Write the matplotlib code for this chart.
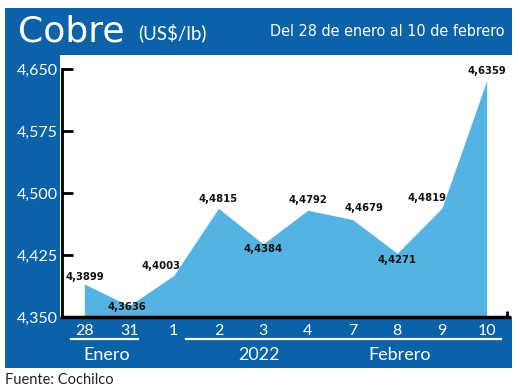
import matplotlib.pyplot as plt
from matplotlib.patches import Rectangle
from matplotlib.lines import Line2D
from matplotlib.transforms import blended_transform_factory

# Copper price, US$/lb
days = ["28", "31", "1", "2", "3", "4", "7", "8", "9", "10"]
prices = [4.3899, 4.3636, 4.4003, 4.4815, 4.4384, 4.4792, 4.4679, 4.4271, 4.4819, 4.6359]
price_labels = ["4,3899", "4,3636", "4,4003", "4,4815", "4,4384",
                "4,4792", "4,4679", "4,4271", "4,4819", "4,6359"]
y_ticks = [4.350, 4.425, 4.500, 4.575, 4.650]
y_tick_labels = ["4,350", "4,425", "4,500", "4,575", "4,650"]
group_names = ["Enero", "2022", "Febrero"]

BLUE = "#0C62A9"
FILL = "#55B3E3"
W, H = 520, 390


def fx(px):
    return px / W


def fy(py):
    return 1 - py / H


fig = plt.figure(figsize=(5.2, 3.9), dpi=100)

# background panels
fig.patches.append(Rectangle((fx(5), fy(368)), fx(507), 360 / H, transform=fig.transFigure,
                             facecolor=BLUE, edgecolor="none", zorder=0))
fig.patches.append(Rectangle((fx(60), fy(317)), fx(460), 262 / H, transform=fig.transFigure,
                             facecolor="white", edgecolor="none", zorder=0))

ax = fig.add_axes([fx(62), fy(317), fx(447), 262 / H])
ax.set_facecolor("none")
ax.set_zorder(2)

x = list(range(len(prices)))
ax.fill_between(x, prices, 4.35, color=FILL, lw=0)
ax.set_xlim(-0.5, 9.5)
ax.set_ylim(4.35, 4.667)

# value labels (offsets in points)
offsets = [(0, 5), (-1.5, -1), (-9, 6.5), (0, 7), (0, -3.5),
           (0, 7), (8, 8), (0, -4.5), (-11, 7), (0, 7)]
for xi, v, lab, off in zip(x, prices, price_labels, offsets):
    ax.annotate(lab, (xi, v), xytext=off, textcoords="offset points",
                ha="center", va="center", fontsize=8, fontweight="bold",
                family="DejaVu Sans", stretch="condensed", color="#111111")

for s in ["top", "right"]:
    ax.spines[s].set_visible(False)
ax.spines["left"].set_linewidth(2)
ax.spines["left"].set_bounds(4.35, 4.65)
ax.spines["bottom"].set_linewidth(2.5)

ax.set_yticks(y_ticks)
ax.set_yticklabels(y_tick_labels, family="Lato", fontsize=11.5, color="white")
ax.tick_params(axis="y", direction="in", length=8, width=2, pad=3)
ax.set_xticks(x)
ax.set_xticklabels(days, family="Lato", fontsize=11.5, color="white")
ax.tick_params(axis="x", length=0, pad=5)
ax.set_xticks([9.45], minor=True)
ax.tick_params(axis="x", which="minor", direction="in", length=4, width=2)

# month / year groups under the axis
tr = blended_transform_factory(ax.transData, fig.transFigure)
for x0, x1 in [(-0.29, 1.21), (2.28, 9.31)]:
    fig.add_artist(Line2D([x0, x1], [fy(339), fy(339)], transform=tr, color="white", lw=1.6))
for name, gx in zip(group_names, [0.5, 3.9, 7.05]):
    ax.text(gx, fy(355), name, transform=tr, ha="center", va="center",
            family="Lato", fontsize=13, color="white")

# header
fig.text(fx(18), fy(42), "Cobre", family="DejaVu Sans", fontsize=26, color="white", va="baseline")
fig.text(fx(138), fy(39), "(US$/lb)", family="Lato", fontsize=13.5, color="white", va="baseline")
fig.text(fx(505), fy(32), "Del 28 de enero al 10 de febrero",
         family="DejaVu Sans", stretch="condensed", fontsize=11.5, color="white",
         ha="right", va="center")

fig.text(fx(5), fy(380), "Fuente: Cochilco", family="Lato", fontsize=10.5,
         color="#222222", va="center")

fig.savefig("out.png", dpi=100)
